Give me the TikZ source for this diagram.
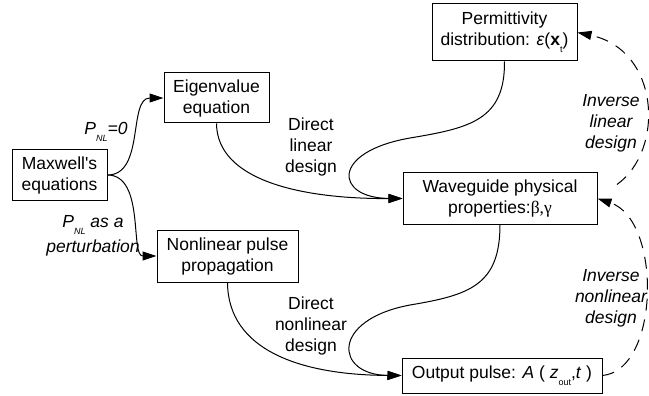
\documentclass[tikz,border=0pt]{standalone}
\usepackage{fontspec}
\setmainfont{Liberation Sans}
\newfontfamily\grkfont{Liberation Serif}
\usetikzlibrary{arrows.meta}
% small lowered index, as used in P_NL, x_t, z_out
\newcommand{\lowsub}[1]{\raisebox{-0.4em}{\fontsize{9}{9}\selectfont #1}}

\begin{document}
\begin{tikzpicture}[x=1pt, y=-1pt, line width=1pt,
  box/.style={draw, align=center, inner sep=2pt, font=\fontsize{17.5}{21}\selectfont},
  lbl/.style={align=center, inner sep=0pt, font=\fontsize{17.5}{21}\selectfont},
  ital/.style={align=center, inner sep=0pt, font=\fontsize{17.5}{21}\selectfont\itshape},
  flow/.style={-{Triangle[length=14pt,width=9pt]}},
  inv/.style={flow, dash pattern=on 12pt off 9pt}]
  \useasboundingbox (0,0) rectangle (649,396);

  % boxes
  \node[box, minimum width=95pt, minimum height=51pt] (maxwell) at (59.5,175) {Maxwell\textquotesingle s\\equations};
  \node[box, minimum width=105pt, minimum height=50pt] (eigen) at (216.5,98) {Eigenvalue\\equation};
  \node[box, minimum width=141pt, minimum height=52pt] (nlprop) at (227.5,256) {Nonlinear pulse\\propagation};
  \node[box, minimum width=145pt, minimum height=57pt] (perm) at (504.5,32.5) {Permittivity\\distribution: \textit{ε}(\textbf{x}\lowsub{t})};
  \node[box, minimum width=194pt, minimum height=51pt] (wave) at (500,198.5) {Waveguide physical\\properties:{\grkfont β,γ}};
  \node[box, minimum width=200pt, minimum height=35pt] (output) at (502,375.5) {Output pulse: \textit{A} ( \textit{z}\lowsub{out},\textit{t} )};

  % labels
  \node[ital] (pzero) at (106,132) {P\lowsub{NL}=0};
  \node[ital, font=\fontsize{17.5}{25}\selectfont\itshape] (pert) at (93,236) {P\lowsub{NL} as a\\perturbation};
  \node[lbl] (dlin) at (311,147) {Direct\\linear\\design};
  \node[lbl] (dnl) at (311,326) {Direct\\nonlinear\\design};
  \node[ital] (invlin) at (611,123) {Inverse\\linear\\design};
  \node[ital] (invnl) at (611,298) {Inverse\\nonlinear\\design};

  % direct design flow
  \draw[flow] (maxwell.east) .. controls (145,175) and (128,98) .. (eigen.west);
  \draw[flow] (maxwell.east) .. controls (145,175) and (130,256) .. (nlprop.west);
  \draw[flow] (eigen.south) .. controls (217,180) and (300,199) .. (wave.west);
  \draw[flow] (perm.south) .. controls (505,120) and (470,128) .. (410,138)
    .. controls (330,152) and (335,198) .. (wave.west);
  \draw[flow] (wave.south) .. controls (500,285) and (470,295) .. (410,305)
    .. controls (330,320) and (335,375) .. (output.west);
  \draw[flow] (nlprop.south) .. controls (228,350) and (300,375) .. (output.west);

  % inverse design loops
  \draw[inv] (output.east) .. controls (660,370) and (662,220) .. (wave.east);
  \draw[inv, shorten <=24pt] (wave.east) .. controls (665,150) and (660,50) .. (perm.east);
\end{tikzpicture}
\end{document}
